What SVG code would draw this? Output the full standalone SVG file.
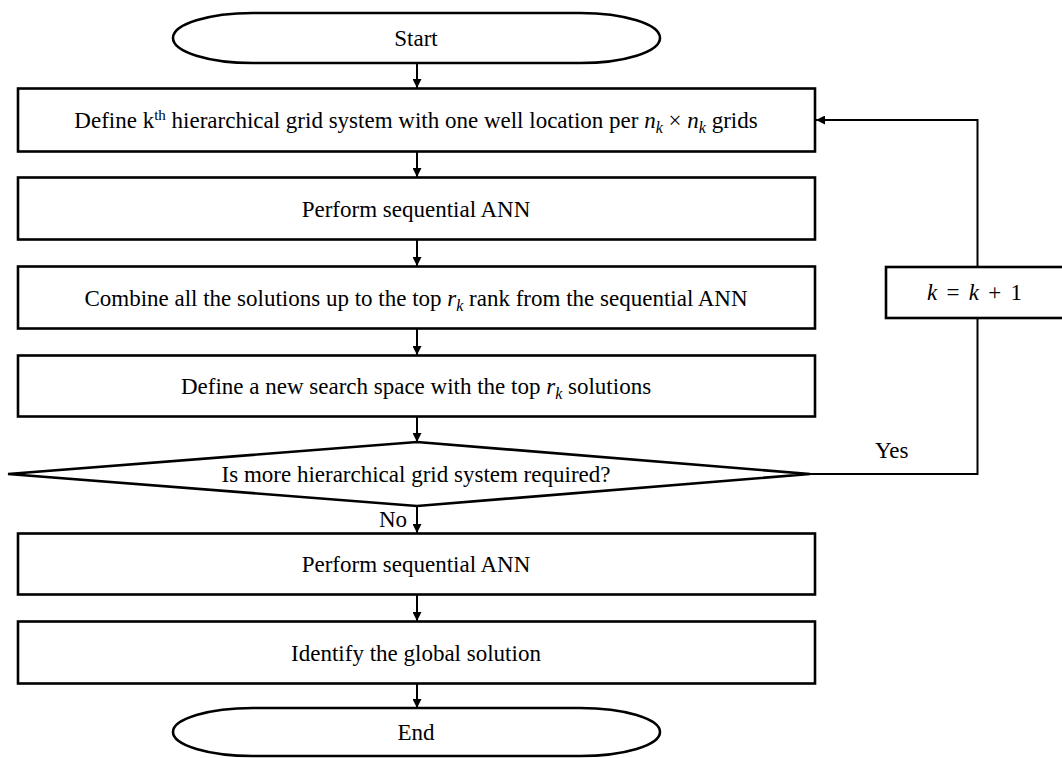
<svg xmlns="http://www.w3.org/2000/svg" width="1062" height="758" viewBox="0 0 1062 758">
<style>
.shape{fill:#fff;stroke:#000;stroke-width:2.6}
.line{fill:none;stroke:#000;stroke-width:2}
.t{font-family:"Liberation Serif","Times New Roman",serif;font-size:23px;fill:#000}
.c{text-anchor:middle}
.m{font-style:italic}
.sub{font-style:italic;font-size:16px}
</style>
<defs>
<marker id="ah" viewBox="0 0 10 10" refX="10" refY="5" markerWidth="9" markerHeight="9" markerUnits="userSpaceOnUse" orient="auto">
<path d="M0,0 L10,5 L0,10 Z" fill="#000"/>
</marker>
</defs>
<rect width="1062" height="758" fill="#fff"/>
<g id="connectors">
<line class="line" x1="417" y1="63" x2="417" y2="88" marker-end="url(#ah)"/>
<line class="line" x1="417" y1="152" x2="417" y2="177" marker-end="url(#ah)"/>
<line class="line" x1="417" y1="240" x2="417" y2="266" marker-end="url(#ah)"/>
<line class="line" x1="417" y1="328" x2="417" y2="355" marker-end="url(#ah)"/>
<line class="line" x1="417" y1="416" x2="417" y2="442" marker-end="url(#ah)"/>
<line class="line" x1="417" y1="506" x2="417" y2="533" marker-end="url(#ah)"/>
<line class="line" x1="417" y1="594" x2="417" y2="621" marker-end="url(#ah)"/>
<line class="line" x1="417" y1="683" x2="417" y2="708" marker-end="url(#ah)"/>
<polyline class="line" points="810,474 977.5,474 977.5,318"/>
<polyline class="line" points="977.5,267 977.5,120 816,120" marker-end="url(#ah)"/>
<text class="t" x="875" y="458">Yes</text>
<text class="t" x="407" y="527" text-anchor="end">No</text>
</g>
<g id="start">
<rect class="shape" x="173" y="13" width="487" height="50" rx="80" ry="25"/>
<text class="t c" x="416" y="46">Start</text>
</g>
<g id="define-grid">
<rect class="shape" x="18" y="88.5" width="797" height="63"/>
<text class="t c" x="416" y="128">Define k<tspan font-size="15" dy="-8">th</tspan><tspan dy="8"> hierarchical grid system with one well location per </tspan><tspan class="m">n</tspan><tspan class="sub" dy="5">k</tspan><tspan dy="-5"> × </tspan><tspan class="m">n</tspan><tspan class="sub" dy="5">k</tspan><tspan dy="-5"> grids</tspan></text>
</g>
<g id="perform-ann-1">
<rect class="shape" x="18" y="177.5" width="797" height="62"/>
<text class="t c" x="416" y="216.5">Perform sequential ANN</text>
</g>
<g id="combine">
<rect class="shape" x="18" y="266.5" width="797" height="62"/>
<text class="t c" x="416" y="305.5">Combine all the solutions up to the top <tspan class="m">r</tspan><tspan class="sub" dy="5">k</tspan><tspan dy="-5"> rank from the sequential ANN</tspan></text>
</g>
<g id="define-space">
<rect class="shape" x="18" y="355.5" width="797" height="61"/>
<text class="t c" x="416" y="394">Define a new search space with the top <tspan class="m">r</tspan><tspan class="sub" dy="5">k</tspan><tspan dy="-5"> solutions</tspan></text>
</g>
<g id="decision">
<polygon class="shape" points="417,442 810,474 417,506 8,474"/>
<text class="t c" x="416" y="482">Is more hierarchical grid system required?</text>
</g>
<g id="increment">
<rect class="shape" x="886" y="267" width="183" height="51"/>
<text class="t" x="927" y="300" textLength="95"><tspan class="m">k</tspan> = <tspan class="m">k</tspan> + 1</text>
</g>
<g id="perform-ann-2">
<rect class="shape" x="18" y="533.5" width="797" height="61"/>
<text class="t c" x="416" y="572">Perform sequential ANN</text>
</g>
<g id="identify">
<rect class="shape" x="18" y="621.5" width="797" height="62"/>
<text class="t c" x="416" y="660.5">Identify the global solution</text>
</g>
<g id="end">
<rect class="shape" x="173" y="708" width="487" height="48" rx="80" ry="24"/>
<text class="t c" x="416" y="740">End</text>
</g>
</svg>
